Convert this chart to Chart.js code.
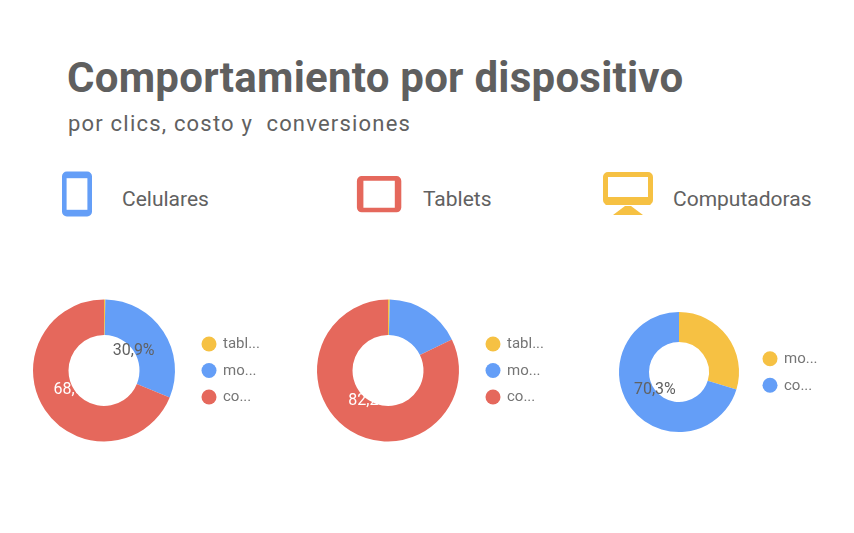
<!DOCTYPE html>
<html>
<head>
<meta charset="utf-8">
<script src="https://cdn.jsdelivr.net/npm/chart.js@4.4.1/dist/chart.umd.min.js"></script>
<style>
  html, body { margin: 0; padding: 0; background: #ffffff; }
  body { width: 854px; height: 533px; position: relative; overflow: hidden; font-family: Roboto, "Noto Sans", sans-serif; color: #616161; }
  .abs { position: absolute; line-height: normal; }
  #title { left: 67px; top: 53px; font-size: 42px; font-weight: 700; color: #5f5f5f; white-space: nowrap; letter-spacing: 0.25px; }
  #subtitle { left: 68px; top: 111px; font-size: 22px; font-weight: 400; color: #616161; white-space: pre; letter-spacing: 1.2px; }
  .dev { font-size: 21px; color: #616161; white-space: nowrap; }
  canvas.chart { position: absolute; left: 0; top: 0; }
</style>
</head>
<body>
<div id="title" class="abs">Comportamiento por dispositivo</div>
<div id="subtitle" class="abs">por clics, costo y  conversiones</div>

<svg class="abs" style="left:0;top:0" width="854" height="260">
  <rect x="64.3" y="173.8" width="25.4" height="40.4" rx="2.5" ry="2.5" fill="none" stroke="#649ef7" stroke-width="4.6"/>
  <rect x="64.3" y="173.8" width="25.4" height="4.4" fill="#649ef7"/>
  <rect x="64.3" y="209.8" width="25.4" height="4.4" fill="#649ef7"/>
  <rect x="359.2" y="178.4" width="39.8" height="31.6" rx="2.5" ry="2.5" fill="none" stroke="#e5685c" stroke-width="4.6"/>
  <rect x="359.2" y="178.4" width="4.2" height="31.6" fill="#e5685c"/>
  <rect x="394.8" y="178.4" width="4.2" height="31.6" fill="#e5685c"/>
  <rect x="605.5" y="174.5" width="45" height="28" rx="2.5" ry="2.5" fill="none" stroke="#f6c143" stroke-width="5"/>
  <rect x="605.5" y="197" width="45" height="8" fill="#f6c143"/>
  <polygon points="625,206 631,206 643,215 613,215" fill="#f6c143"/>
</svg>
<div class="abs dev" style="left:122px;top:187px">Celulares</div>
<div class="abs dev" style="left:423px;top:187px">Tablets</div>
<div class="abs dev" style="left:673px;top:187px">Computadoras</div>

<canvas id="c1" class="chart" width="854" height="533"></canvas>
<canvas id="c2" class="chart" width="854" height="533"></canvas>
<canvas id="c3" class="chart" width="854" height="533"></canvas>

<script>
// ---- data ----
const chart1Labels = ["tabl...", "mo...", "co..."];
const chart1Values = [0.3, 30.9, 68.8];
const chart2Labels = ["tabl...", "mo...", "co..."];
const chart2Values = [0.4, 17.4, 82.2];
const chart3Labels = ["mo...", "co..."];
const chart3Values = [29.7, 70.3];

// ---- styles ----
const YELLOW = "#f6c143", BLUE = "#649ef7", RED = "#e5685c";
const chart1Colors = [YELLOW, BLUE, RED];
const chart2Colors = [YELLOW, BLUE, RED];
const chart3Colors = [YELLOW, BLUE];
const labelTextColor = { [YELLOW]: "#616161", [BLUE]: "#616161", [RED]: "#ffffff" };
const LABEL_MIN = 30;

const sliceLabels = {
  id: "sliceLabels",
  afterDatasetsDraw(chart) {
    const ctx = chart.ctx;
    const meta = chart.getDatasetMeta(0);
    const ds = chart.data.datasets[0];
    ctx.save();
    ctx.font = "16px Roboto, 'Noto Sans', sans-serif";
    ctx.textAlign = "center";
    ctx.textBaseline = "middle";
    meta.data.forEach((arc, i) => {
      const v = ds.data[i];
      if (v < LABEL_MIN) return;
      const p = arc.getProps(["x", "y", "startAngle", "endAngle", "innerRadius"], true);
      const mid = (p.startAngle + p.endAngle) / 2;
      const r = p.innerRadius;
      ctx.fillStyle = labelTextColor[ds.backgroundColor[i]] || "#616161";
      ctx.fillText(v.toFixed(1).replace(".", ",") + "%", p.x + Math.cos(mid) * r, p.y + Math.sin(mid) * r);
    });
    ctx.restore();
  }
};

const sideLegend = {
  id: "sideLegend",
  afterDraw(chart, args, opts) {
    const ctx = chart.ctx;
    const area = chart.chartArea;
    const cy = (area.top + area.bottom) / 2;
    const labels = chart.data.labels;
    const colors = chart.data.datasets[0].backgroundColor;
    const n = labels.length;
    ctx.save();
    ctx.font = "15px Roboto, 'Noto Sans', sans-serif";
    ctx.textAlign = "left";
    ctx.textBaseline = "middle";
    labels.forEach((lab, i) => {
      const y = cy + (i - (n - 1) / 2) * 26.5;
      ctx.beginPath();
      ctx.fillStyle = colors[i];
      ctx.arc(area.right + opts.dx, y, 7.5, 0, Math.PI * 2);
      ctx.fill();
      ctx.fillStyle = "#757575";
      ctx.fillText(lab, area.right + opts.dx + 14, y + 0.5);
    });
    ctx.restore();
  }
};

function makeDonut(id, labels, values, colors, pad, dx) {
  new Chart(document.getElementById(id), {
    type: "doughnut",
    data: {
      labels: labels,
      datasets: [{ data: values, backgroundColor: colors, borderWidth: 0, hoverOffset: 0 }]
    },
    options: {
      responsive: false,
      animation: false,
      cutout: "50%",
      layout: { padding: pad },
      plugins: {
        legend: { display: false },
        tooltip: { enabled: false },
        sideLegend: { dx: dx }
      }
    },
    plugins: [sliceLabels, sideLegend]
  });
}

makeDonut("c1", chart1Labels, chart1Values, chart1Colors, { left: 33, right: 679, top: 299, bottom: 91 }, 34);
makeDonut("c2", chart2Labels, chart2Values, chart2Colors, { left: 317, right: 395, top: 299, bottom: 91 }, 34);
makeDonut("c3", chart3Labels, chart3Values, chart3Colors, { left: 619, right: 115, top: 312, bottom: 101 }, 31);
</script>
</body>
</html>
